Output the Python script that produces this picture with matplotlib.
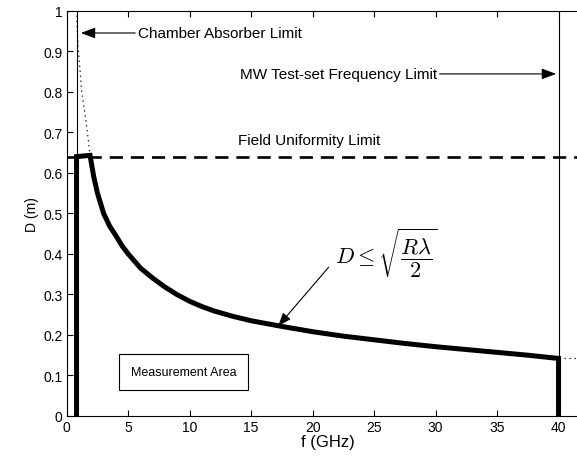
import matplotlib
matplotlib.use("Agg")
import matplotlib.pyplot as plt

plt.rcParams['font.family'] = ['Liberation Sans', 'DejaVu Sans']
plt.rcParams['mathtext.fontset'] = 'cm'

# ---- data ----
chamber_limit = 0.8        # GHz
testset_limit = 40.0       # GHz
uniformity_limit = 0.64    # m

curve_f = [1.9, 2.2, 2.5, 3, 3.5, 4, 4.5, 5, 6, 7, 8, 9, 10, 11, 12, 13.5,
           15, 17.5, 20, 22.5, 25, 27.5, 30, 32.5, 35, 37.5, 40]
curve_D = [0.643, 0.59, 0.55, 0.50, 0.468, 0.445, 0.42, 0.40, 0.365, 0.34,
           0.318, 0.299, 0.283, 0.270, 0.259, 0.246, 0.235, 0.221, 0.208,
           0.197, 0.188, 0.179, 0.171, 0.164, 0.157, 0.150, 0.142]

dotted_f = [0.82, 0.84, 0.92, 1.08, 1.22, 1.49, 1.74, 1.9]
dotted_D = [1.0, 0.97, 0.91, 0.855, 0.80, 0.745, 0.685, 0.643]

xticks = [0, 5, 10, 15, 20, 25, 30, 35, 40]
yticks = [0, 0.1, 0.2, 0.3, 0.4, 0.5, 0.6, 0.7, 0.8, 0.9, 1]
ytick_labels = ['0', '0.1', '0.2', '0.3', '0.4', '0.5', '0.6', '0.7', '0.8', '0.9', '1']

fig = plt.figure(figsize=(5.77, 4.64), dpi=100)
ax = fig.add_axes([0.1156, 0.1013, 0.9057, 0.8735])

# thin limit lines
ax.plot([chamber_limit, chamber_limit], [0, 1], color='black', lw=0.8)
ax.plot([testset_limit, testset_limit], [0, 1], color='black', lw=0.8)
# field uniformity dashed
ax.axhline(uniformity_limit, color='black', lw=1.9, ls=(0, (5, 3)))
# dotted continuations
ax.plot(dotted_f, dotted_D, color='black', lw=0.9, ls=(0, (1, 3)))
ax.plot([testset_limit, 42.5], [curve_D[-1], curve_D[-1]], color='black', lw=0.9, ls=(0, (1, 3)))

# measurement area boundary (thick)
bound_f = [chamber_limit, chamber_limit] + curve_f + [testset_limit]
bound_D = [0, uniformity_limit] + curve_D + [0]
ax.plot(bound_f, bound_D, color='black', lw=3.6, solid_joinstyle='miter')

ax.set_xlim(0, 42.5)
ax.set_ylim(0, 1)
ax.set_xticks(xticks)
ax.set_yticks(yticks)
ax.set_yticklabels(ytick_labels)
ax.tick_params(direction='in', length=4, width=0.8, top=True, right=True,
               labelsize=10, pad=3)
for s in ax.spines.values():
    s.set_linewidth(0.8)
ax.set_xlabel('f (GHz)', fontsize=12, labelpad=0)
ax.set_ylabel('D (m)', fontsize=10, labelpad=3)

arrow = dict(arrowstyle='-|>,head_length=0.8,head_width=0.3', color='black',
             lw=0.8, shrinkA=0, shrinkB=0)

ax.annotate('Chamber Absorber Limit', xy=(1.15, 0.945), xytext=(5.8, 0.945),
            fontsize=11, va='center', ha='left', arrowprops=arrow)
ax.annotate('MW Test-set Frequency Limit', xy=(39.8, 0.844), xytext=(30.1, 0.844),
            fontsize=11, va='center', ha='right', arrowprops=arrow)
ax.text(13.95, 0.68, 'Field Uniformity Limit', fontsize=11, va='center', ha='left')
ax.text(21.8, 0.405, r'$D \leq \sqrt{\dfrac{R\lambda}{2}}$', fontsize=16,
        va='center', ha='left')
ax.annotate('', xy=(17.2, 0.222), xytext=(21.3, 0.367), arrowprops=arrow)
ax.text(5.2, 0.108, 'Measurement Area', fontsize=9, va='center', ha='left',
        bbox=dict(boxstyle='square,pad=0.95', fc='white', ec='black', lw=0.8))

fig.savefig('out.png', dpi=100)
